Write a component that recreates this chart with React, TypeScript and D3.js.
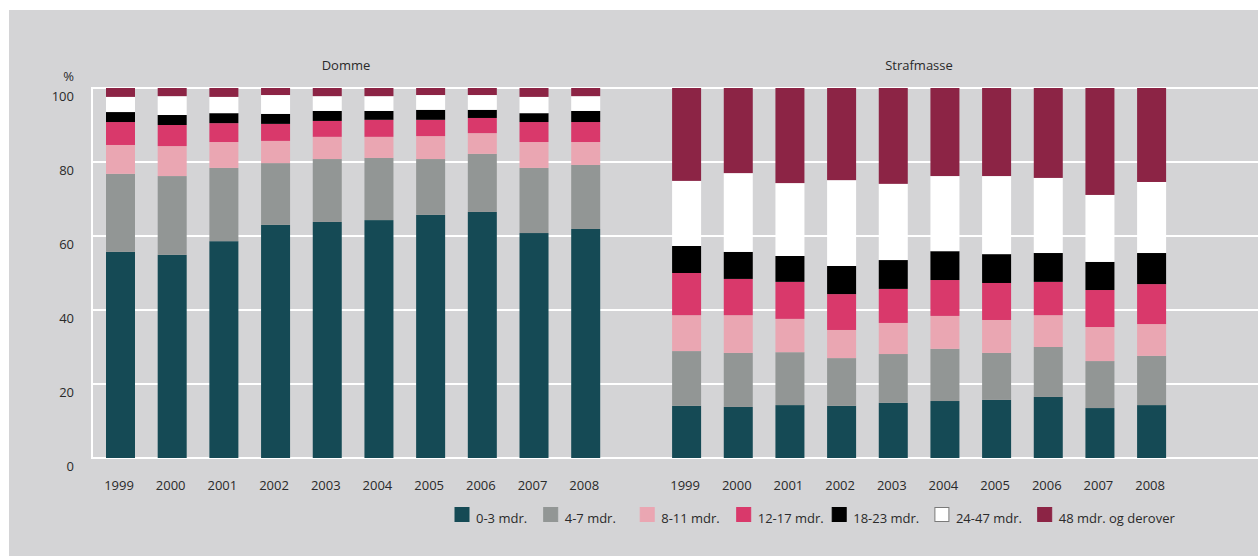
import React from 'react';
import * as d3 from 'd3';

// ---------- data ----------
const years = ['1999', '2000', '2001', '2002', '2003', '2004', '2005', '2006', '2007', '2008'];
const categories = ['0-3 mdr.', '4-7 mdr.', '8-11 mdr.', '12-17 mdr.', '18-23 mdr.', '24-47 mdr.', '48 mdr. og derover'];
const yTicks = [0, 20, 40, 60, 80, 100];

// Domme (%)
const domme0_3 = [55.7, 54.9, 58.6, 63.0, 63.8, 64.3, 65.7, 66.5, 60.8, 61.9];
const domme4_7 = [21.1, 21.3, 19.8, 16.7, 17.0, 16.8, 15.1, 15.7, 17.6, 17.3];
const domme8_11 = [7.8, 8.1, 7.0, 6.0, 6.0, 5.7, 6.2, 5.6, 7.0, 6.2];
const domme12_17 = [6.2, 5.7, 5.1, 4.6, 4.3, 4.6, 4.4, 4.1, 5.4, 5.4];
const domme18_23 = [2.7, 2.7, 2.7, 2.7, 2.7, 2.4, 2.7, 2.2, 2.4, 3.0];
const domme24_47 = [4.1, 5.1, 4.4, 5.1, 4.0, 4.0, 4.0, 4.0, 4.4, 4.0];
const domme48 = [2.4, 2.2, 2.4, 1.9, 2.2, 2.2, 1.9, 1.9, 2.4, 2.2];

// Strafmasse (%)
const straf0_3 = [14.1, 13.8, 14.3, 14.1, 14.9, 15.4, 15.7, 16.5, 13.5, 14.3];
const straf4_7 = [14.8, 14.6, 14.3, 12.9, 13.2, 14.1, 12.7, 13.5, 12.7, 13.3];
const straf8_11 = [9.7, 10.2, 9.0, 7.6, 8.4, 8.9, 8.9, 8.6, 9.2, 8.6];
const straf12_17 = [11.4, 9.8, 10.0, 9.7, 9.2, 9.7, 10.0, 9.0, 10.0, 10.8];
const straf18_23 = [7.3, 7.3, 7.0, 7.6, 7.8, 7.8, 7.8, 7.8, 7.6, 8.4];
const straf24_47 = [17.6, 21.3, 19.7, 23.2, 20.6, 20.3, 21.1, 20.3, 18.1, 19.2];
const straf48 = [25.1, 23.0, 25.7, 24.9, 25.9, 23.8, 23.8, 24.3, 28.9, 25.4];

// ---------- styles / layout ----------
const colors = ['#154a55', '#929695', '#eaa6b2', '#d9396b', '#000000', '#ffffff', '#8c2445'];
const BG = '#d4d4d6';
const TEXT = '#2a2a2a';
const FONT = '"Open Sans", "DejaVu Sans", sans-serif';
const W = 1258;
const H = 556;
const legendX = [454.5, 543.2, 639.7, 736.2, 831.7, 934.4, 1037.2];

function buildRows(series: number[][]) {
  return years.map((yr, i) => {
    const row: Record<string, number | string> = { year: yr };
    categories.forEach((c, k) => {
      row[c] = series[k][i];
    });
    return row;
  });
}

const dommeRows = buildRows([domme0_3, domme4_7, domme8_11, domme12_17, domme18_23, domme24_47, domme48]);
const strafRows = buildRows([straf0_3, straf4_7, straf8_11, straf12_17, straf18_23, straf24_47, straf48]);

export default function App() {
  const y = d3.scaleLinear().domain([0, 100]).range([458, 88]);
  const xLeft = d3.scalePoint<string>().domain(years).range([120.5, 585.7]);
  const xRight = d3.scalePoint<string>().domain(years).range([686.6, 1151.6]);
  const barW = 29;

  const stack = d3.stack<any>().keys(categories);
  const dommeStack = stack(dommeRows as any);
  const strafStack = stack(strafRows as any);

  const renderBars = (st: any[], x: d3.ScalePoint<string>, key: string) =>
    st.map((layer, k) => (
      <g key={key + k} fill={colors[k]}>
        {layer.map((d: any) => {
          const yr = d.data.year as string;
          const y0 = y(d[0]);
          const y1 = y(Math.min(d[1], 100));
          return (
            <rect
              key={yr}
              x={(x(yr) as number) - barW / 2}
              y={y1}
              width={barW}
              height={Math.max(0, y0 - y1)}
            />
          );
        })}
      </g>
    ));

  return (
    <svg
      width={W}
      height={H}
      style={{ position: 'absolute', left: 0, top: 0, display: 'block' }}
      fontFamily={FONT}
    >
      <rect x={0} y={0} width={W} height={H} fill="#ffffff" />
      <rect x={9} y={10} width={W - 9} height={H - 10} fill={BG} />

      {/* gridlines */}
      {yTicks.map((t) => (
        <line key={'g' + t} x1={92} x2={W} y1={y(t)} y2={y(t)} stroke="#ffffff" strokeWidth={2} />
      ))}
      <line x1={92} x2={92} y1={y(100) - 1} y2={y(0) + 1} stroke="#ffffff" strokeWidth={2} />

      {/* y tick labels */}
      {yTicks.map((t) => (
        <text key={'t' + t} x={74} y={y(t) + 12.7} textAnchor="end" fontSize={13} fill={TEXT}>
          {t}
        </text>
      ))}
      <text x={74} y={80.7} textAnchor="end" fontSize={13} fill={TEXT}>
        %
      </text>

      {/* titles */}
      <text x={346} y={69.5} textAnchor="middle" fontSize={13} fill={TEXT}>
        Domme
      </text>
      <text x={919} y={69.5} textAnchor="middle" fontSize={13} fill={TEXT}>
        Strafmasse
      </text>

      {/* bars */}
      {renderBars(dommeStack, xLeft, 'd')}
      {renderBars(strafStack, xRight, 's')}

      {/* x labels */}
      {years.map((yr) => (
        <text key={'xl' + yr} x={(xLeft(yr) as number) - 1.5} y={489.6} textAnchor="middle" fontSize={13} fill={TEXT}>
          {yr}
        </text>
      ))}
      {years.map((yr) => (
        <text key={'xr' + yr} x={(xRight(yr) as number) - 1.5} y={489.6} textAnchor="middle" fontSize={13} fill={TEXT}>
          {yr}
        </text>
      ))}

      {/* legend */}
      {categories.map((c, k) => (
        <g key={'lg' + k} transform={`translate(${legendX[k]},507)`}>
          <rect
            x={0.5}
            y={0.5}
            width={14}
            height={14}
            fill={colors[k]}
            stroke={k === 5 ? '#7a7a7a' : colors[k]}
            strokeWidth={1}
          />
          <text x={21.5} y={16.3} fontSize={13} fill={TEXT}>
            {c}
          </text>
        </g>
      ))}
    </svg>
  );
}
